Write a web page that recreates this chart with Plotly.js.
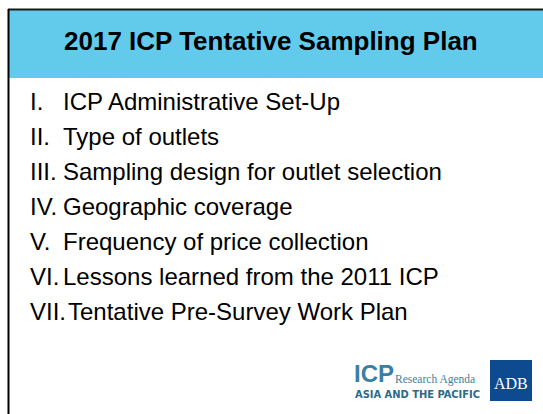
<!DOCTYPE html>
<html>
<head>
<meta charset="utf-8">
<script src="https://cdn.plot.ly/plotly-3.0.1.min.js"></script>
<style>
  html, body { margin: 0; padding: 0; background: #fff; }
  #slide { width: 543px; height: 414px; }
</style>
</head>
<body>
<div id="slide"></div>
<script>
// slide content
var slideTitle = "2017 ICP Tentative Sampling Plan";
var numerals = ["I.", "II.", "III.", "IV.", "V.", "VI.", "VII."];
var items = [
  "ICP Administrative Set-Up",
  "Type of outlets",
  "Sampling design for outlet selection",
  "Geographic coverage",
  "Frequency of price collection",
  "Lessons learned from the 2011 ICP",
  "Tentative Pre-Survey Work Plan"
];
var logoLines = ["ICP", "Research Agenda", "ASIA AND THE PACIFIC", "ADB"];

var annotations = [];

// header title
annotations.push({
  x: 271, y: 41, xref: 'x', yref: 'y',
  text: '<b>' + slideTitle + '</b>',
  showarrow: false,
  xanchor: 'center', yanchor: 'middle',
  font: { family: 'Liberation Sans, Arial', size: 26, color: '#000' }
});

// numbered list
var firstRow = 101.5, rowGap = 35;
numerals.forEach(function (n, i) {
  var y = firstRow + i * rowGap;
  // numerals wider than the hanging indent push the text right
  var wide = n.length > 3 && n.indexOf('V') >= 0;
  annotations.push({
    x: 28, y: y, xref: 'x', yref: 'y', text: n, showarrow: false,
    xanchor: 'left', yanchor: 'middle',
    font: { family: 'Liberation Sans, Arial', size: 24, color: '#000' }
  });
  annotations.push({
    x: wide ? 66 : 61, y: y, xref: 'x', yref: 'y', text: items[i], showarrow: false,
    xanchor: 'left', yanchor: 'middle',
    font: { family: 'Liberation Sans, Arial', size: 24, color: '#000' }
  });
});

// logos, bottom right
annotations.push({
  x: 352, y: 373, xref: 'x', yref: 'y', text: '<b>' + logoLines[0] + '</b>', showarrow: false,
  xanchor: 'left', yanchor: 'middle',
  font: { family: 'Liberation Sans, Arial', size: 24, color: '#3C7FA6' }
});
annotations.push({
  x: 393, y: 379, xref: 'x', yref: 'y', text: logoLines[1], showarrow: false,
  xanchor: 'left', yanchor: 'middle',
  font: { family: 'Liberation Serif, serif', size: 11.5, color: '#3F7F9A' }
});
annotations.push({
  x: 353, y: 394, xref: 'x', yref: 'y', text: '<b>' + logoLines[2] + '</b>', showarrow: false,
  xanchor: 'left', yanchor: 'middle',
  font: { family: 'Liberation Sans Narrow, DejaVu Sans Condensed, Arial Narrow', size: 11, color: '#2A6A8A' }
});
annotations.push({
  x: 511, y: 383, xref: 'x', yref: 'y', text: logoLines[3], showarrow: false,
  xanchor: 'center', yanchor: 'middle',
  font: { family: 'Liberation Serif, serif', size: 16, color: '#fff' }
});

var shapes = [
  // header band
  { type: 'rect', xref: 'x', yref: 'y', x0: 9, x1: 543, y0: 10, y1: 78,
    fillcolor: '#62CBEC', line: { width: 0 } },
  // top border
  { type: 'line', xref: 'x', yref: 'y', x0: 8, x1: 543, y0: 9.5, y1: 9.5,
    line: { color: '#1a1a1a', width: 2 } },
  // left border
  { type: 'line', xref: 'x', yref: 'y', x0: 8.5, x1: 8.5, y0: 9, y1: 414,
    line: { color: '#000', width: 2 } },
  // ADB box
  { type: 'rect', xref: 'x', yref: 'y', x0: 490, x1: 532, y0: 360, y1: 401,
    fillcolor: '#0D4A8F', line: { width: 0 } }
];

var layout = {
  width: 543,
  height: 414,
  margin: { l: 0, r: 0, t: 0, b: 0 },
  paper_bgcolor: '#fff',
  plot_bgcolor: '#fff',
  showlegend: false,
  xaxis: { range: [0, 543], visible: false, fixedrange: true },
  yaxis: { range: [414, 0], visible: false, fixedrange: true },
  shapes: shapes,
  annotations: annotations
};

Plotly.newPlot('slide', [], layout, { staticPlot: true, displayModeBar: false });
</script>
</body>
</html>
